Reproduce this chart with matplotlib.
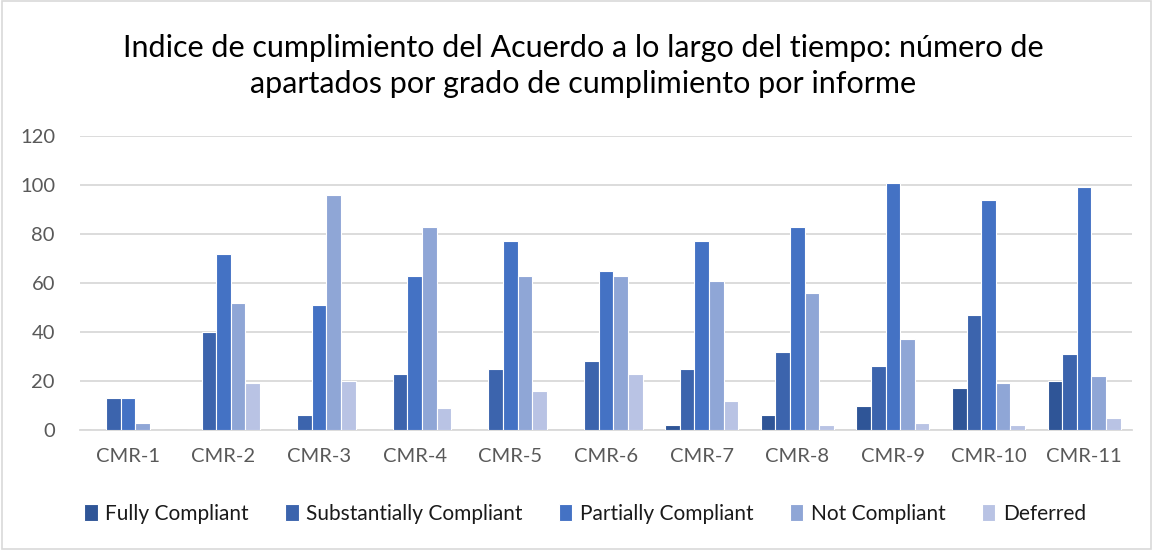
import matplotlib
matplotlib.use("Agg")
import matplotlib.pyplot as plt
import numpy as np
from matplotlib.patches import Rectangle

categories = ["CMR-1", "CMR-2", "CMR-3", "CMR-4", "CMR-5", "CMR-6",
              "CMR-7", "CMR-8", "CMR-9", "CMR-10", "CMR-11"]
fully = [0, 0, 0, 0, 0, 0, 2, 6, 10, 17, 20]
substantially = [13, 40, 6, 23, 25, 28, 25, 32, 26, 47, 31]
partially = [13, 72, 51, 63, 77, 65, 77, 83, 101, 94, 99]
not_compliant = [3, 52, 96, 83, 63, 63, 61, 56, 37, 19, 22]
deferred = [0, 19, 20, 9, 16, 23, 12, 2, 3, 2, 5]

series_names = ["Fully Compliant", "Substantially Compliant", "Partially Compliant",
                "Not Compliant", "Deferred"]
series = [fully, substantially, partially, not_compliant, deferred]
colors = ["#2F5597", "#3C64AD", "#4472C4", "#8FA6D6", "#B9C3E4"]

title = "Indice de cumplimiento del Acuerdo a lo largo del tiempo: número de\napartados por grado de cumplimiento por informe"

plt.rcParams['font.family'] = ['Lato', 'DejaVu Sans']

fig = plt.figure(figsize=(11.53, 5.5), dpi=100)
ax = fig.add_axes([80/1153, 1-430/550, (1132-80)/1153, (430-136)/550])

x = np.arange(len(categories))
slot = 0.153
for i, (vals, c, name) in enumerate(zip(series, colors, series_names)):
    ax.bar(x + (i - 2) * slot, vals, width=slot, color=c, edgecolor="white",
           linewidth=0.8, label=name, zorder=3)

ax.set_xlim(-0.5, len(categories) - 0.5)
ax.set_ylim(0, 120)
ax.set_yticks(np.arange(0, 121, 20))
ax.set_xticks(x)
ax.set_xticklabels(categories)
ax.grid(axis="y", color="#D9D9D9", linewidth=1.3, zorder=0)
for s in ["top", "right", "left"]:
    ax.spines[s].set_visible(False)
ax.spines["bottom"].set_color("#D9D9D9")
ax.spines["bottom"].set_linewidth(1.3)
ax.tick_params(axis="both", length=0, labelsize=14.5, colors="#595959")
ax.tick_params(axis="x", pad=13)
ax.tick_params(axis="y", pad=18)

fig.text(583/1153, 1-66/550, title, ha="center", va="center", fontsize=22,
         color="#000000", linespacing=1.35)

handles, labels = ax.get_legend_handles_labels()
fig.legend(handles, labels, loc="center", bbox_to_anchor=(585/1153, 1-514/550),
           ncol=5, frameon=False, fontsize=15, handlelength=0.65,
           handleheight=0.85, handletextpad=0.35, columnspacing=1.75,
           labelcolor="#1a1a1a")

fig.add_artist(Rectangle((0.002, 0.002), 0.996, 0.996, transform=fig.transFigure,
                         fill=False, edgecolor="#D9D9D9", linewidth=1.2))

fig.savefig("out.png", dpi=100)
